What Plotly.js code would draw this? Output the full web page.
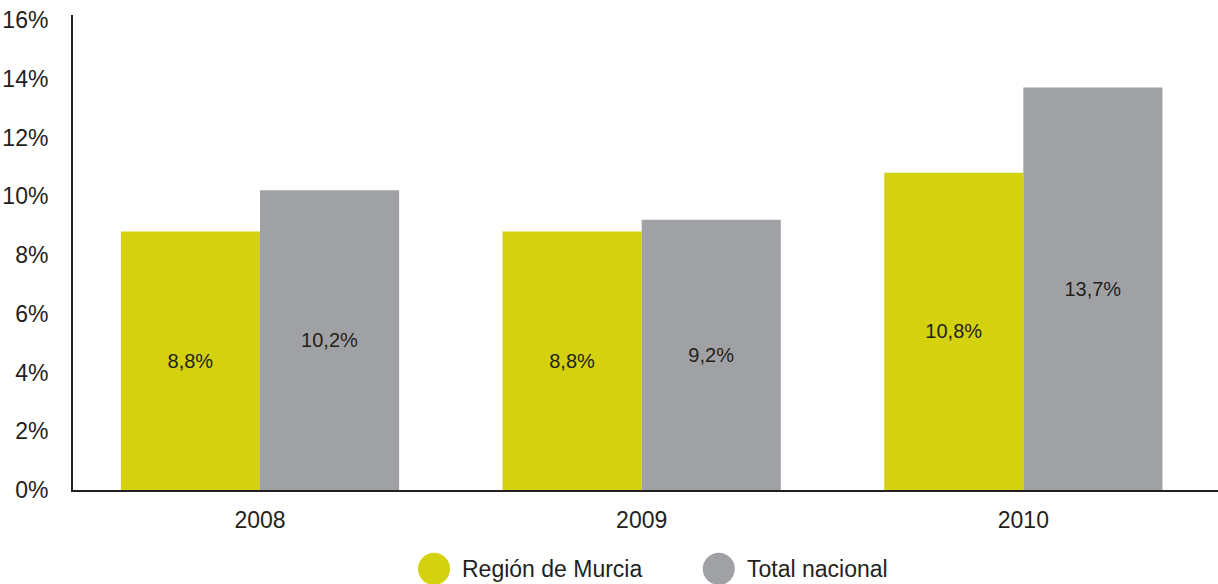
<!DOCTYPE html>
<html>
<head>
<meta charset="utf-8">
<script src="https://cdn.plot.ly/plotly-3.0.1.min.js"></script>
<style>
html,body{margin:0;padding:0;background:#fff;}
#chart{width:1218px;height:584px;}
</style>
</head>
<body>
<div id="chart"></div>
<script>
const years = ['2008', '2009', '2010'];
const murcia = [8.8, 8.8, 10.8];
const nacional = [10.2, 9.2, 13.7];
const seriesNames = ['Región de Murcia', 'Total nacional'];
const colors = ['#d4d10f', '#a0a1a5'];
const yTickVals = [0, 2, 4, 6, 8, 10, 12, 14, 16];
const yTickText = ['0%', '2%', '4%', '6%', '8%', '10%', '12%', '14%', '16%'];

const FONT = '"Liberation Sans", Arial, sans-serif';
const fmt = v => v.toFixed(1).replace('.', ',') + '%';

const traces = [murcia, nacional].map((vals, i) => ({
  type: 'bar',
  name: seriesNames[i],
  x: years,
  y: vals,
  marker: {color: colors[i], line: {width: 0}},
  text: vals.map(fmt),
  textposition: 'inside',
  insidetextanchor: 'middle',
  textangle: 0,
  textfont: {family: FONT, size: 20, color: '#231f20'},
  showlegend: false,
  hoverinfo: 'x+y'
}));

// Legend drawn as circles + labels under the plot
const legendX = [0.3153, 0.564];  // paper coords of circle centres
const shapes = legendX.map((px, i) => ({
  type: 'circle', xref: 'paper', yref: 'paper',
  xsizemode: 'pixel', ysizemode: 'pixel',
  xanchor: px, yanchor: -0.166,
  x0: -16, x1: 16, y0: -16, y1: 16,
  fillcolor: colors[i], line: {width: 0}
}));
const annotations = legendX.map((px, i) => ({
  xref: 'paper', yref: 'paper',
  x: px, y: -0.166, xshift: 26,
  xanchor: 'left', yanchor: 'middle',
  text: seriesNames[i], showarrow: false,
  font: {family: FONT, size: 23, color: '#231f20'}
}));

const layout = {
  width: 1218, height: 584,
  margin: {l: 73, r: 0, t: 15, b: 94, pad: 0},
  paper_bgcolor: '#fff', plot_bgcolor: '#fff',
  font: {family: FONT, size: 23, color: '#231f20'},
  barmode: 'group',
  bargap: 0.271,
  bargroupgap: 0,
  showlegend: false,
  xaxis: {
    type: 'category',
    range: [-0.49, 2.51],
    showline: true, linecolor: '#231f20', linewidth: 2,
    ticks: '', showgrid: false, zeroline: false,
    ticklabelstandoff: 8,
    tickfont: {family: FONT, size: 23, color: '#231f20'}
  },
  yaxis: {
    range: [0, 16.17],
    tickvals: yTickVals, ticktext: yTickText,
    showline: true, linecolor: '#231f20', linewidth: 2,
    ticks: '', showgrid: false, zeroline: false,
    ticklabelstandoff: 18,
    tickfont: {family: FONT, size: 23, color: '#231f20'}
  },
  shapes: shapes,
  annotations: annotations
};

Plotly.newPlot('chart', traces, layout, {displayModeBar: false, staticPlot: true});
</script>
</body>
</html>
